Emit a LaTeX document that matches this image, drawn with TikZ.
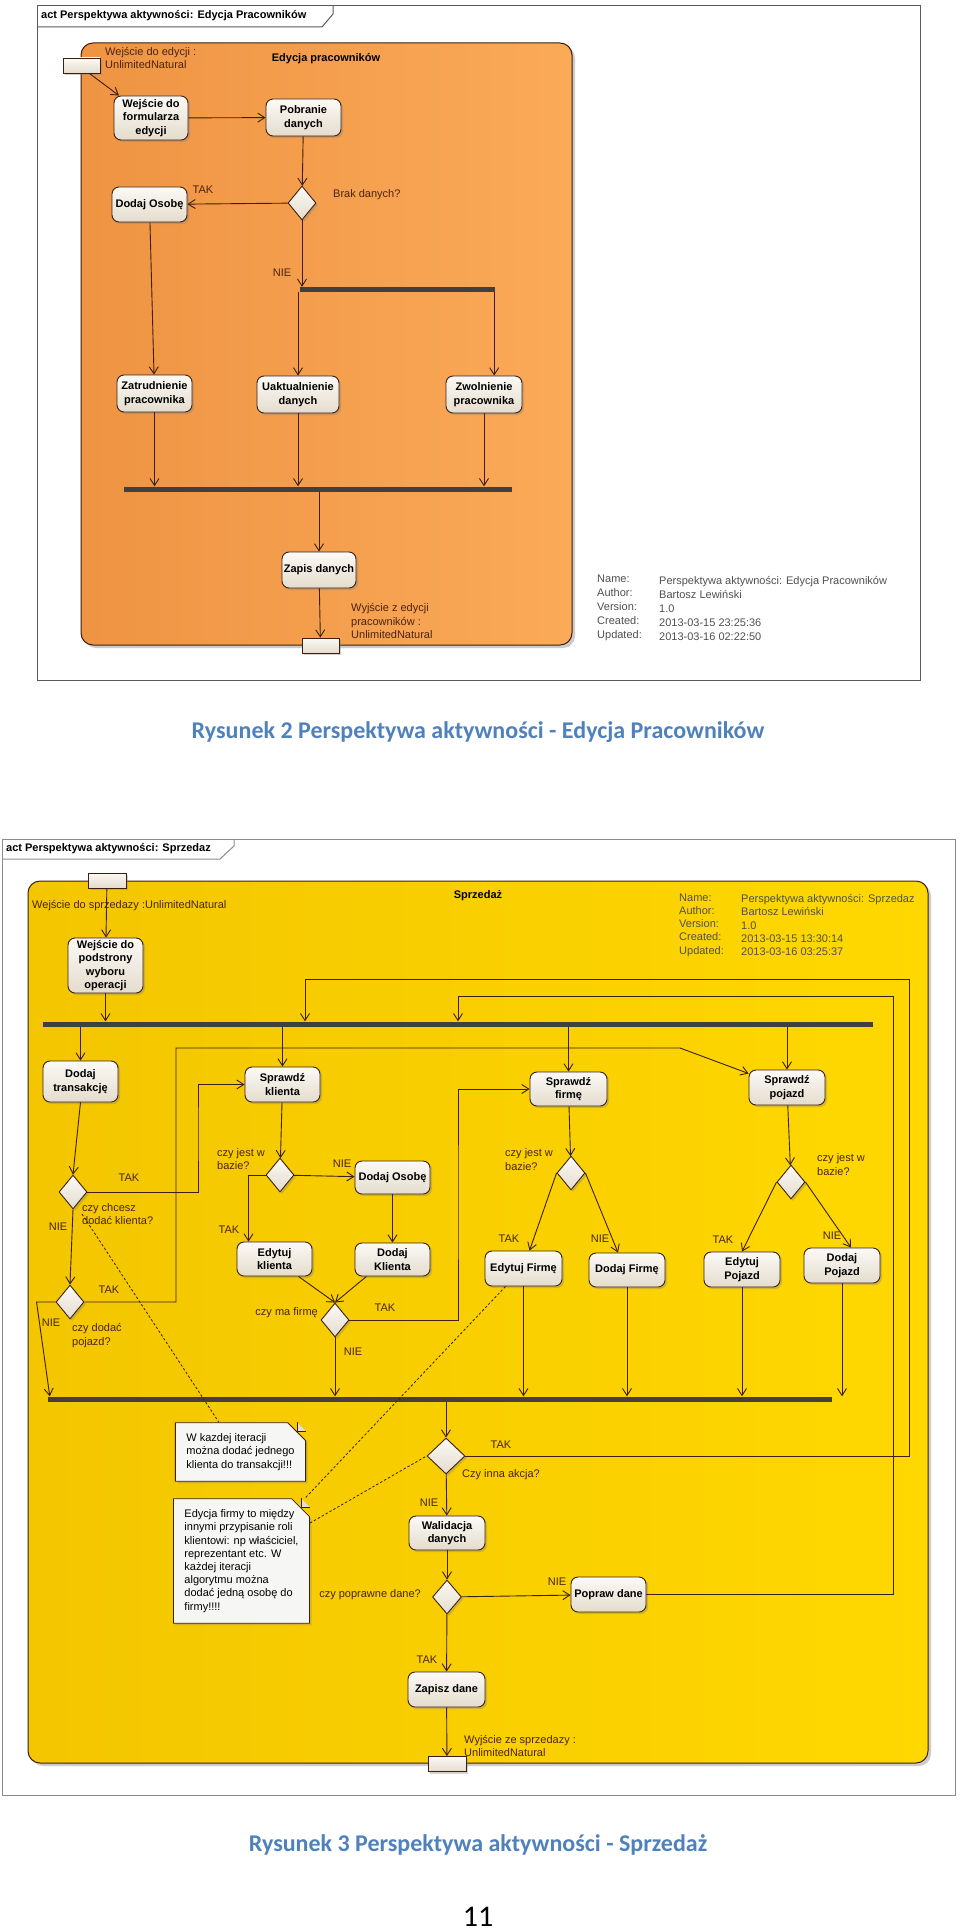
\documentclass[tikz,border=0pt]{standalone}
\usepackage{fontspec}
\setmainfont{Liberation Sans}
\newfontfamily\capfont{Carlito}
\usetikzlibrary{arrows.meta,shapes.geometric,shapes.misc,shadows}
\definecolor{linec}{HTML}{3D1F10}
\definecolor{guardc}{HTML}{4A2410}
\definecolor{barc}{HTML}{404040}
\definecolor{frmc}{HTML}{5A5A5A}
\definecolor{orL}{HTML}{EE9443}
\definecolor{orR}{HTML}{FBAA58}
\definecolor{yeL}{HTML}{F3C600}
\definecolor{yeR}{HTML}{FFD800}
\definecolor{acttop}{HTML}{FCFAF5}
\definecolor{actbot}{HTML}{E4DCCD}
\definecolor{notefill}{HTML}{F6F6F4}
\definecolor{capc}{HTML}{4F81BD}
\definecolor{infoc}{HTML}{505050}

\tikzset{
	act/.style 2 args={draw=linec, line width=0.9pt, rounded corners=7pt,
		top color=acttop, bottom color=actbot,
		minimum width=#1pt, minimum height=#2pt, inner sep=1pt, align=center,
		font=\bfseries\fontsize{11}{13.5}\selectfont,
		drop shadow={shadow xshift=2pt, shadow yshift=-2pt, opacity=0.35}},
	decision/.style={diamond, draw=linec, line width=0.9pt,
		top color=acttop, bottom color=actbot,
		minimum width=28pt, minimum height=34pt, inner sep=0pt,
		drop shadow={shadow xshift=2pt, shadow yshift=-2pt, opacity=0.35}},
	pinbox/.style={draw=linec, line width=0.9pt, top color=acttop, bottom color=actbot,
		minimum width=37pt, minimum height=15pt, inner sep=0pt,
		drop shadow={shadow xshift=2pt, shadow yshift=-2pt, opacity=0.35}},
	syncbar/.style={fill=barc, inner sep=0pt, minimum height=5pt},
	flowline/.style={draw=linec, line width=0.9pt,
		-{Straight Barb[length=7pt,width=9pt]}},
	notelink/.style={draw=linec, line width=0.8pt, dash pattern=on 2.5pt off 2pt},
	notebox/.style 2 args={chamfered rectangle, chamfered rectangle corners=north east,
		chamfered rectangle xsep=9pt, chamfered rectangle ysep=9pt,
		draw=linec, line width=0.8pt, fill=notefill,
		minimum width=#1pt, minimum height=#2pt, inner sep=2pt, align=left,
		font=\fontsize{11}{13.2}\selectfont,
		drop shadow={shadow xshift=2pt, shadow yshift=-2pt, opacity=0.3}},
	guard/.style={text=guardc, inner sep=0pt, font=\fontsize{11}{13.5}\selectfont},
	infotxt/.style={text=infoc, inner sep=0pt, align=left, anchor=west},
	frametitle/.style={inner sep=0pt, anchor=west, font=\bfseries\fontsize{11}{13}\selectfont},
	regtitle/.style={inner sep=0pt, font=\bfseries\fontsize{11}{13}\selectfont},
	caption/.style={inner sep=0pt, text=capc, font=\capfont\bfseries\fontsize{24}{28}\selectfont}
}

\begin{document}
\begin{tikzpicture}[x=1pt,y=-1pt]
		% page
		\useasboundingbox (0,0) rectangle (960,1929);
		\fill[white] (0,0) rectangle (960,1929);

		% ===== Edycja pracownikow =====
		% frame
		\draw[frmc, line width=1pt] (37,6) rectangle (920,680);
		\draw[frmc, line width=1pt] (37,27) -- (322,27) -- (333,14) -- (333,6);
		\node[frametitle] (tytulA) at (41,16) {act Perspektywa aktywności: Edycja Pracowników};
		% region
		\draw[draw=linec, line width=1pt, left color=orL, right color=orR, rounded corners=12pt,
		drop shadow={shadow xshift=3pt, shadow yshift=-3pt, opacity=0.4}]
		(81,43) rectangle (572,645);
		\node[regtitle] (nazwaA) at (326,59) {Edycja pracowników};
		% info
		\node[infotxt, font=\fontsize{11}{14}\selectfont] (infoA1) at (597,608)
		{Name:\\Author:\\Version:\\Created:\\Updated:};
		\node[infotxt, font=\fontsize{11}{14}\selectfont] (infoA2) at (659,608)
		{Perspektywa aktywności: Edycja Pracowników\\Bartosz Lewiński\\1.0\\2013-03-15 23:25:36\\2013-03-16 02:22:50};

		% actions
		\node[pinbox] (wejA) at (81.5,65.5) {};
		\node[act={74}{44}] (formularz) at (151,118) {Wejście do\\formularza\\edycji};
		\node[act={75}{37}] (pobranie) at (303.5,117.5) {Pobranie\\danych};
		\node[decision] (brak) at (302,203) {};
		\node[act={75}{35}] (dodajA) at (149.5,204.5) {Dodaj Osobę};
		\node[syncbar, minimum width=195pt] (forkA) at (397.5,289.5) {};
		\node[act={75}{37}] (zatr) at (154.5,393.5) {Zatrudnienie\\pracownika};
		\node[act={82}{37}] (uakt) at (298,394.5) {Uaktualnienie\\danych};
		\node[act={76}{37}] (zwol) at (484,394.5) {Zwolnienie\\pracownika};
		\node[syncbar, minimum width=388pt] (joinA) at (318,489) {};
		\node[act={74}{36}] (zapis) at (319,570) {Zapis danych};
		\node[pinbox] (wyjA) at (320.5,645.5) {};

		% labels
		\node[guard, anchor=west, align=left] (lblWejA) at (105,58) {Wejście do edycji :\\UnlimitedNatural};
		\node[guard] (takA) at (203,190) {TAK};
		\node[guard] (nieA) at (282,273) {NIE};
		\node[guard, anchor=west] (brakTxt) at (333,195) {Brak danych?};
		\node[guard, anchor=west, align=left] (lblWyjA) at (351,621) {Wyjście z edycji\\pracowników :\\UnlimitedNatural};

		% flows
		\draw[flowline] (wejA.-45) -- (formularz.145);
		\draw[flowline] (formularz) -- (pobranie);
		\draw[flowline] (pobranie) -- (brak);
		\draw[flowline] (brak) -- (dodajA);
		\draw[flowline] (brak.south) -- (brak.south |- forkA.north);
		\draw[flowline] (forkA.south -| uakt.north) -- (uakt.north);
		\draw[flowline] ([xshift=-1pt]forkA.south east) -- ([xshift=-1pt]forkA.south east |- zwol.north);
		\draw[flowline] (dodajA) -- (zatr);
		\draw[flowline] (zatr.south) -- (zatr.south |- joinA.north);
		\draw[flowline] (uakt.south) -- (uakt.south |- joinA.north);
		\draw[flowline] (zwol.south) -- (zwol.south |- joinA.north);
		\draw[flowline] (joinA.south -| zapis.north) -- (zapis.north);
		\draw[flowline] (zapis) -- (wyjA);

		% caption
		\node[caption] (podpisA) at (478,732) {Rysunek 2 Perspektywa aktywności - Edycja Pracowników};

		% ===== Sprzedaz =====
		% frame
		\draw[frmc!70, line width=1pt] (2,839) rectangle (955,1795);
		\draw[frmc!70, line width=1pt] (2,859) -- (220,859) -- (234,846) -- (234,839);
		\node[frametitle] (tytulB) at (6,849) {act Perspektywa aktywności: Sprzedaz};
		% region
		\draw[draw=linec, line width=1pt, left color=yeL, right color=yeR, rounded corners=12pt,
		drop shadow={shadow xshift=3pt, shadow yshift=-3pt, opacity=0.4}]
		(28,881) rectangle (928,1763);
		\node[regtitle] (nazwaB) at (478,896) {Sprzedaż};
		% info
		\node[infotxt, font=\fontsize{11}{13.3}\selectfont] (infoB1) at (679,925)
		{Name:\\Author:\\Version:\\Created:\\Updated:};
		\node[infotxt, font=\fontsize{11}{13.3}\selectfont] (infoB2) at (741,925)
		{Perspektywa aktywności: Sprzedaz\\Bartosz Lewiński\\1.0\\2013-03-15 13:30:14\\2013-03-16 03:25:37};

		% actions
		\node[pinbox, minimum width=38pt] (wejB) at (107,880.5) {};
		\node[act={75}{55}] (podstrona) at (105.5,965.5) {Wejście do\\podstrony\\wyboru\\operacji};
		\node[syncbar, minimum width=830pt] (forkB) at (458,1024) {};
		\node[act={75}{41}] (transakcja) at (80.5,1081.5) {Dodaj\\transakcję};
		\node[act={75}{35}] (sprKlient) at (282.5,1084.5) {Sprawdź\\klienta};
		\node[act={77}{34}] (sprFirma) at (568.5,1089) {Sprawdź\\firmę};
		\node[act={76}{35}] (sprPojazd) at (787,1087.5) {Sprawdź\\pojazd};
		\node[decision] (czyKlient) at (73,1192) {};
		\node[decision] (czyPojazd) at (70,1302) {};
		\node[decision] (bazaKlient) at (280,1175) {};
		\node[act={75}{33}] (osobaB) at (392.5,1177.5) {Dodaj Osobę};
		\node[act={75}{34}] (edKlient) at (274.5,1259) {Edytuj\\klienta};
		\node[act={75}{33}] (dodKlient) at (392.5,1259.5) {Dodaj\\Klienta};
		\node[decision] (czyFirma) at (335,1320) {};
		\node[decision] (bazaFirma) at (571,1173) {};
		\node[act={77}{35}] (edFirma) at (523.5,1268.5) {Edytuj Firmę};
		\node[act={76}{34}] (dodFirma) at (627,1270) {Dodaj Firmę};
		\node[decision] (bazaPojazd) at (791,1182) {};
		\node[act={76}{35}] (edPojazd) at (742,1269.5) {Edytuj\\Pojazd};
		\node[act={76}{35}] (dodPojazd) at (842,1265.5) {Dodaj\\Pojazd};
		\node[syncbar, minimum width=784pt] (joinB) at (440,1399) {};
		\node[decision, minimum width=38pt, minimum height=36pt] (innaAkcja) at (446,1456) {};
		\node[act={76}{34}] (walidacja) at (447,1533) {Walidacja\\danych};
		\node[decision, minimum width=29pt] (poprawne) at (447,1597) {};
		\node[act={75}{35}] (popraw) at (608.5,1594.5) {Popraw dane};
		\node[act={77}{35}] (zapisz) at (446.5,1689.5) {Zapisz dane};
		\node[pinbox, minimum width=38pt] (wyjB) at (447,1764) {};

		% notes
		\node[notebox={125}{56}] (uwagaKlient) at (240.5,1452)
		{W kazdej iteracji\\można dodać jednego\\klienta do transakcji!!!};
		\node[notebox={127}{124}] (uwagaFirma) at (241.5,1561)
		{Edycja firmy to między\\innymi przypisanie roli\\klientowi: np właściciel,\\reprezentant etc. W\\każdej iteracji\\algorytmu można\\dodać jedną osobę do\\firmy!!!!};
		\coordinate (rogKlient) at (uwagaKlient.north -| uwagaKlient.east);
		\coordinate (rogFirma) at (uwagaFirma.north -| uwagaFirma.east);
		\draw[linec, line width=0.8pt, fill=gray!25] ([xshift=-9pt]rogKlient) -- ++(0,9) -- ++(9,0);
		\draw[linec, line width=0.8pt, fill=gray!25] ([xshift=-9pt]rogFirma) -- ++(0,9) -- ++(9,0);

		% labels
		\node[guard, anchor=west] (lblWejB) at (32,906) {Wejście do sprzedazy :UnlimitedNatural};
		\node[guard] (tak1) at (129,1178) {TAK};
		\node[guard, anchor=west, align=left] (gKlient) at (82,1214) {czy chcesz\\dodać klienta?};
		\node[guard] (nie1) at (58,1227) {NIE};
		\node[guard] (tak2) at (109,1290) {TAK};
		\node[guard] (nie2) at (51,1323) {NIE};
		\node[guard, anchor=west, align=left] (gPojazd) at (72,1335.5) {czy dodać\\pojazd?};
		\node[guard, anchor=west, align=left] (gBazaK) at (217,1159) {czy jest w\\bazie?};
		\node[guard] (nie3) at (342,1164) {NIE};
		\node[guard] (tak3) at (229,1230) {TAK};
		\node[guard, anchor=east] (gFirma) at (318,1313) {czy ma firmę};
		\node[guard] (tak4) at (385,1308) {TAK};
		\node[guard] (nie4) at (353,1352) {NIE};
		\node[guard, anchor=west, align=left] (gBazaF) at (505,1159.5) {czy jest w\\bazie?};
		\node[guard] (tak5) at (509,1239) {TAK};
		\node[guard] (nie5) at (600,1239) {NIE};
		\node[guard, anchor=west, align=left] (gBazaP) at (817,1164.5) {czy jest w\\bazie?};
		\node[guard] (tak6) at (723,1240) {TAK};
		\node[guard] (nie6) at (832,1236) {NIE};
		\node[guard] (tak7) at (501,1445) {TAK};
		\node[guard, anchor=west] (gInna) at (462,1475) {Czy inna akcja?};
		\node[guard] (nie7) at (429,1503) {NIE};
		\node[guard, anchor=east] (gPoprawne) at (421,1595) {czy poprawne dane?};
		\node[guard] (nie8) at (557,1582) {NIE};
		\node[guard] (tak8) at (427,1660) {TAK};
		\node[guard, anchor=west, align=left] (lblWyjB) at (464,1746) {Wyjście ze sprzedazy :\\UnlimitedNatural};

		% flows
		\coordinate (powrotA) at (305,979);
		\coordinate (powrotB) at (458,996);
		\draw[flowline] (wejB) -- (podstrona);
		\draw[flowline] (podstrona.south) -- (podstrona.south |- forkB.north);
		\draw[flowline] (forkB.south -| transakcja.north) -- (transakcja.north);
		\draw[flowline] (forkB.south -| sprKlient.north) -- (sprKlient.north);
		\draw[flowline] (forkB.south -| sprFirma.north) -- (sprFirma.north);
		\draw[flowline] (forkB.south -| sprPojazd.north) -- (sprPojazd.north);
		\draw[flowline] (transakcja.south) -- (czyKlient.north);
		\draw[flowline] (czyKlient.east) -| (198,1130) |- (sprKlient.west);
		\draw[flowline] (czyKlient.south) -- (czyPojazd.north);
		\draw[flowline] (czyPojazd.east) -| (176,1100) |- (680,1048) -- (sprPojazd.160);
		\draw[flowline] (czyPojazd.west) -- ++(-19,0) -- ([xshift=2pt]joinB.north west);
		\draw[flowline] (sprKlient) -- (bazaKlient);
		\draw[flowline] (bazaKlient) -- (osobaB);
		\draw[flowline] (bazaKlient.west) -| ([xshift=-26pt]edKlient.north);
		\draw[flowline] (osobaB) -- (dodKlient);
		\draw[flowline] (edKlient.-36) -- (czyFirma.north);
		\draw[flowline] (dodKlient.-147) -- (czyFirma.north);
		\draw[flowline] (czyFirma.east) -| (458,1200) |- (sprFirma.west);
		\draw[flowline] (czyFirma.south) -- (czyFirma.south |- joinB.north);
		\draw[flowline] (sprFirma) -- (bazaFirma);
		\draw[flowline] (bazaFirma.west) -- ([xshift=6pt]edFirma.north);
		\draw[flowline] (bazaFirma.east) -- ([xshift=-9pt]dodFirma.north);
		\draw[flowline] (sprPojazd) -- (bazaPojazd);
		\draw[flowline] (bazaPojazd.west) -- (edPojazd.north);
		\draw[flowline] (bazaPojazd.east) -- ([xshift=9pt]dodPojazd.north);
		\draw[flowline] (edFirma.south) -- (edFirma.south |- joinB.north);
		\draw[flowline] (dodFirma.south) -- (dodFirma.south |- joinB.north);
		\draw[flowline] (edPojazd.south) -- (edPojazd.south |- joinB.north);
		\draw[flowline] (dodPojazd.south) -- (dodPojazd.south |- joinB.north);
		\draw[flowline] (joinB.south -| innaAkcja.north) -- (innaAkcja.north);
		\draw[flowline] (innaAkcja.east) -| (909,1200) |- (powrotA) -- (powrotA |- forkB.north);
		\draw[flowline] (innaAkcja) -- (walidacja);
		\draw[flowline] (walidacja) -- (poprawne);
		\draw[flowline] (poprawne) -- (popraw);
		\draw[flowline] (popraw.east) -| (893,1200) |- (powrotB) -- (powrotB |- forkB.north);
		\draw[flowline] (poprawne) -- (zapisz);
		\draw[flowline] (zapisz) -- (wyjB);

		% note links
		\draw[notelink] (gKlient.west) -- (uwagaKlient.126);
		\draw[notelink] ([xshift=-18pt]edFirma.south) -- ([xshift=-5pt]rogFirma);
		\draw[notelink] (uwagaFirma.29) -- (innaAkcja.west);

		% caption
		\node[caption] (podpisB) at (478,1845) {Rysunek 3 Perspektywa aktywności - Sprzedaż};
		\node[inner sep=0pt, font=\capfont\fontsize{30}{34}\selectfont] (strona) at (478,1917) {11};
\end{tikzpicture}
\end{document}
